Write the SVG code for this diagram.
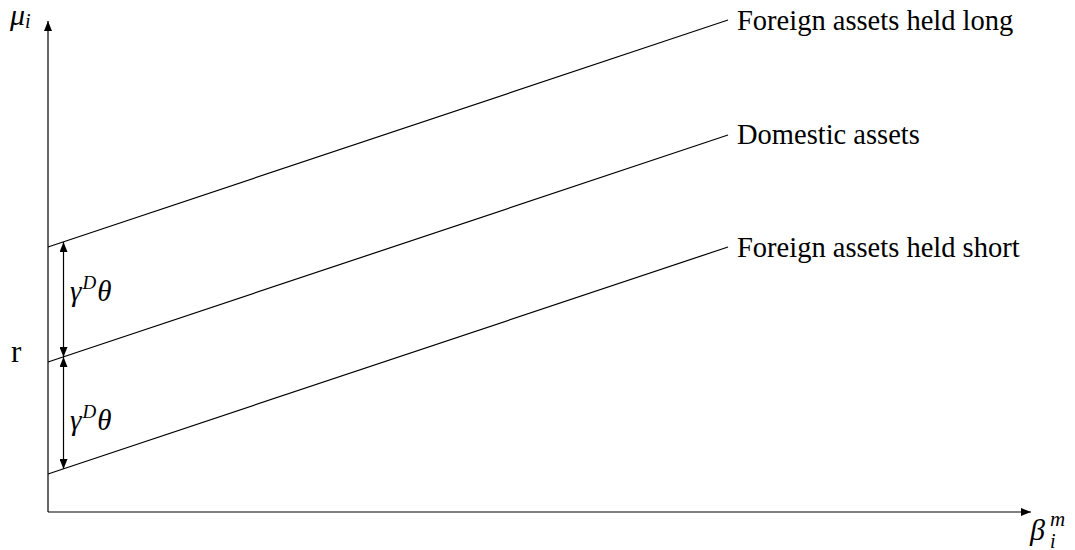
<svg xmlns="http://www.w3.org/2000/svg" width="1075" height="550" viewBox="0 0 1075 550">
<style>
text{font-family:"Liberation Serif","DejaVu Serif",serif;fill:#000}
.lbl{font-size:28.5px}
.m{font-style:italic}
.ln{stroke:#000;stroke-width:1.2;fill:none}
</style>
<defs>
<marker id="ah" viewBox="0 0 10 8" refX="10" refY="4" markerWidth="10" markerHeight="8" markerUnits="userSpaceOnUse" orient="auto-start-reverse">
<path d="M0,0 L10,4 L0,8 Z" fill="#000"/>
</marker>
</defs>
<rect width="1075" height="550" fill="#fff"/>
<g id="axes">
<line class="ln" x1="48" y1="512" x2="48" y2="21" marker-end="url(#ah)"/>
<line class="ln" x1="48" y1="512" x2="1031" y2="512" marker-end="url(#ah)"/>
<text id="mu-label" class="m" x="10" y="25" font-size="30">μ<tspan font-size="20" dy="3">i</tspan></text>
<text id="beta-label" class="m" x="1030" y="540" font-size="30">β</text>
<text id="beta-sup" class="m" x="1050" y="526" font-size="21">m</text>
<text id="beta-sub" class="m" x="1050" y="548" font-size="20">i</text>
<text id="r-label" x="11" y="362" font-size="31">r</text>
</g>
<g id="connectors">
<line id="long" class="ln" x1="48" y1="247" x2="728" y2="20"/>
<line id="domestic" class="ln" x1="48" y1="362" x2="728" y2="135"/>
<line id="short" class="ln" x1="48" y1="474" x2="728" y2="247"/>
<line id="gap1" class="ln" x1="63.5" y1="242" x2="63.5" y2="357" marker-start="url(#ah)" marker-end="url(#ah)"/>
<line id="gap2" class="ln" x1="63.5" y1="357" x2="63.5" y2="469" marker-start="url(#ah)" marker-end="url(#ah)"/>
</g>
<g id="node-long"><text class="lbl" x="737" y="30">Foreign assets held long</text></g>
<g id="node-domestic"><text class="lbl" x="737" y="144">Domestic assets</text></g>
<g id="node-short"><text class="lbl" x="737" y="257">Foreign assets held short</text></g>
<g id="gamma1"><text class="m" x="70" y="301" font-size="29">γ<tspan font-size="19" dx="1" dy="-12">D</tspan><tspan dx="1" dy="12">θ</tspan></text></g>
<g id="gamma2"><text class="m" x="70" y="430" font-size="29">γ<tspan font-size="19" dx="1" dy="-12">D</tspan><tspan dx="1" dy="12">θ</tspan></text></g>
</svg>
